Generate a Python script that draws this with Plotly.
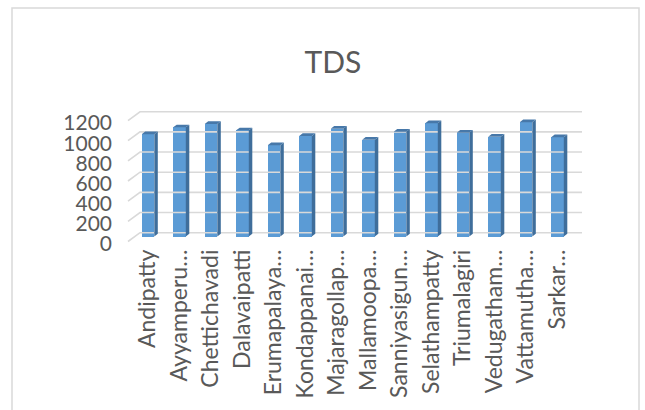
import plotly.graph_objects as go

# TDS by village
villages = ["Andipatty", "Ayyamperu…", "Chettichavadi", "Dalavaipatti", "Erumapalaya…",
            "Kondappanai…", "Majaragollap…", "Mallamoopa…", "Sanniyasigun…", "Selathampatty",
            "Triumalagiri", "Vedugatham…", "Vattamutha…", "Sarkar…"]
tds = [1014, 1083, 1116, 1053, 905, 997, 1069, 960, 1040, 1123, 1030, 990, 1133, 984]
y_ticks = [0, 200, 400, 600, 800, 1000, 1200]

W, H = 645, 410
L, R, T, B = 120, 55, 100, 166          # plot area: x 120..590, y 100..244
PX_PER_CAT = 31.5
PX_PER_UNIT = 0.1008
X0_PX = 148.0                            # centre of first category
Y0_PX = 236.5                            # baseline of the bar plane

def xr(px):
    return (px - X0_PX) / PX_PER_CAT

def yr(py):
    return (Y0_PX - py) / PX_PER_UNIT

x_range = [xr(L), xr(W - R)]
y_range = [yr(H - B), yr(T)]

# 3-D depth offsets (in data units)
bar_w = 0.4
bdx, bdy = 3.5 / PX_PER_CAT, 2.7 / PX_PER_UNIT          # bar depth
wall_dx, wall_dy = 5 / PX_PER_CAT, 3.8 / PX_PER_UNIT    # back wall vs bar plane
front_dx, front_dy = -7 / PX_PER_CAT, -5 / PX_PER_UNIT  # front edge vs bar plane
label_dy = -7.5 / PX_PER_UNIT                           # value labels on the front edge
wall_left, wall_right = xr(140), xr(582)
front_left = xr(128)

idx = list(range(len(villages)))

fig = go.Figure()

# back-wall gridlines with the perspective stub on the left
gx, gy = [], []
for t in y_ticks:
    gx += [front_left, wall_left, wall_right, None]
    gy += [t + front_dy, t + wall_dy, t + wall_dy, None]
fig.add_trace(go.Scatter(x=gx, y=gy, mode="lines", line=dict(color="#D9D9D9", width=1.6),
                         hoverinfo="skip", showlegend=False))

# front faces of the columns
fig.add_trace(go.Bar(x=idx, y=tds, width=bar_w, marker=dict(color="#5B9BD5", line=dict(width=0)),
                     showlegend=False))

# side and top faces
sx, sy, tx, ty = [], [], [], []
for i, v in zip(idx, tds):
    r = i + bar_w / 2
    l = i - bar_w / 2
    sx += [r, r + bdx, r + bdx, r, r, None]
    sy += [0, bdy, v + bdy, v, 0, None]
    tx += [l, l + bdx, r + bdx, r, l, None]
    ty += [v, v + bdy, v + bdy, v, v, None]
fig.add_trace(go.Scatter(x=sx, y=sy, fill="toself", fillcolor="#3F6E9B", mode="lines",
                         line=dict(width=0, color="#3F6E9B"), hoverinfo="skip", showlegend=False))
fig.add_trace(go.Scatter(x=tx, y=ty, fill="toself", fillcolor="#4778A9", mode="lines",
                         line=dict(width=0, color="#4778A9"), hoverinfo="skip", showlegend=False))

# value-axis labels sit on the front edge
fig.add_trace(go.Scatter(x=[], y=[], yaxis="y2", showlegend=False))

font_family = "Lato, Open Sans, sans-serif"
grey = "#595959"

fig.update_layout(
    width=W, height=H,
    margin=dict(l=L, r=R, t=T, b=B),
    paper_bgcolor="white", plot_bgcolor="rgba(0,0,0,0)",
    font=dict(family=font_family, color=grey, size=21),
    title=dict(text="TDS", x=333 / W, xanchor="center", y=1 - 62 / H, yanchor="middle",
               font=dict(size=30, color=grey, family=font_family)),
    xaxis=dict(range=x_range, tickmode="array", tickvals=idx, ticktext=villages,
               tickangle=-90, showgrid=False, zeroline=False, showline=False, ticks="",
               tickfont=dict(size=23, color=grey)),
    yaxis=dict(range=y_range, showticklabels=False, showgrid=False, zeroline=False),
    yaxis2=dict(overlaying="y", side="left", anchor="x",
                range=[y_range[0] - label_dy, y_range[1] - label_dy],
                tickmode="array", tickvals=y_ticks, showgrid=False, zeroline=False,
                ticks="", ticklabelstandoff=7, tickfont=dict(size=21, color=grey)),
    bargap=0,
)

# chart border
def px_x(px):
    return (px - L) / (W - L - R)

def px_y(py):
    return (H - B - py) / (H - T - B)

fig.add_shape(type="rect", xref="paper", yref="paper",
              x0=px_x(12), x1=px_x(639), y0=px_y(420), y1=px_y(8),
              line=dict(color="#D9D9D9", width=1.5), fillcolor="rgba(0,0,0,0)", layer="below")

# horizontal axis title, mostly below the visible area
fig.add_annotation(text="Villages", xref="paper", yref="paper", x=px_x(345), y=px_y(404),
                   xanchor="center", yanchor="top", showarrow=False,
                   font=dict(size=21, color="#000000", family=font_family))

fig.write_html("out.html")
